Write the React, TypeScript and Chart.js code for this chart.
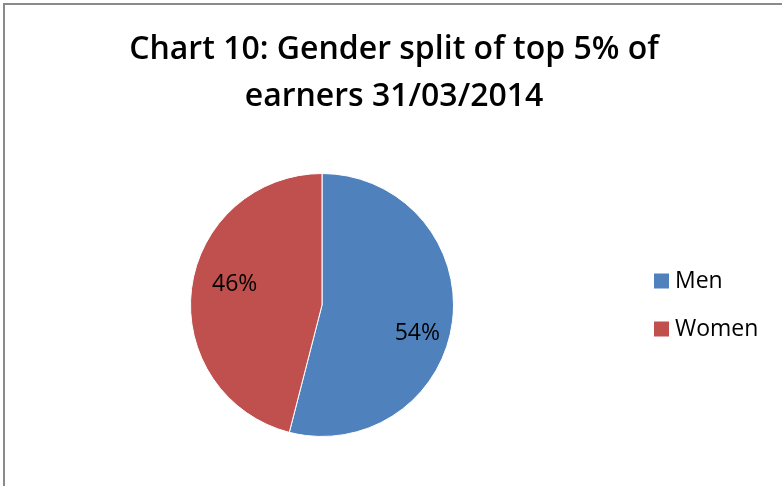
import React, { useEffect, useRef } from "react";
import { Chart, registerables } from "chart.js";

Chart.register(...registerables);

const titleLines = ["Chart 10: Gender split of top 5% of", "earners 31/03/2014"];
const categories = ["Men", "Women"];
const shares = [54, 46];
const colors = ["#4F81BD", "#C0504D"];

const FONT = "'Open Sans', 'Liberation Sans', sans-serif";

const framePlugin = {
  id: "frame",
  beforeDraw(chart: any) {
    const ctx = chart.ctx;
    ctx.save();
    ctx.fillStyle = "#ffffff";
    ctx.fillRect(0, 0, chart.width, chart.height);
    ctx.strokeStyle = "#8a8a8a";
    ctx.lineWidth = 2;
    ctx.beginPath();
    ctx.moveTo(4, chart.height + 5);
    ctx.lineTo(4, 4);
    ctx.lineTo(chart.width + 5, 4);
    ctx.stroke();
    ctx.restore();
  },
};

const titlePlugin = {
  id: "centeredTitle",
  afterDraw(chart: any) {
    const ctx = chart.ctx;
    ctx.save();
    ctx.font = `600 32px ${FONT}`;
    ctx.fillStyle = "#000000";
    ctx.textAlign = "center";
    ctx.textBaseline = "middle";
    titleLines.forEach((line, i) => {
      ctx.fillText(line, 394, 50 + i * 47);
    });
    ctx.restore();
  },
};

const sliceLabelPlugin = {
  id: "sliceLabels",
  afterDatasetsDraw(chart: any) {
    const ctx = chart.ctx;
    const meta = chart.getDatasetMeta(0);
    const data = chart.data.datasets[0].data as number[];
    const total = data.reduce((a, b) => a + b, 0);
    ctx.save();
    ctx.font = `23px ${FONT}`;
    ctx.fillStyle = "#000000";
    ctx.textAlign = "center";
    ctx.textBaseline = "middle";
    meta.data.forEach((arc: any, i: number) => {
      const p = arc.getProps(["x", "y", "startAngle", "endAngle", "outerRadius"], true);
      const mid = (p.startAngle + p.endAngle) / 2 + (8 * Math.PI) / 180;
      const r = p.outerRadius * 0.72;
      const x = p.x + Math.cos(mid) * r + 4;
      const y = p.y + Math.sin(mid) * r + 4;
      ctx.fillText(Math.round((data[i] / total) * 100) + "%", x, y);
    });
    ctx.restore();
  },
};

const legendPlugin = {
  id: "sideLegend",
  afterDraw(chart: any) {
    const ctx = chart.ctx;
    const ds = chart.data.datasets[0];
    const labels = chart.data.labels as string[];
    const cy = (chart.chartArea.top + chart.chartArea.bottom) / 2;
    const spacing = 48;
    const startY = cy - ((labels.length - 1) * spacing) / 2;
    ctx.save();
    ctx.font = `23px ${FONT}`;
    ctx.textBaseline = "middle";
    ctx.textAlign = "left";
    labels.forEach((lab, i) => {
      const y = startY + i * spacing;
      ctx.fillStyle = ds.backgroundColor[i];
      ctx.fillRect(654, y - 7.5, 15, 15);
      ctx.fillStyle = "#000000";
      ctx.fillText(lab, 675, y);
    });
    ctx.restore();
  },
};

export default function App() {
  const ref = useRef<HTMLCanvasElement | null>(null);
  useEffect(() => {
    if (!ref.current) return;
    const chart = new Chart(ref.current, {
      type: "pie",
      data: {
        labels: categories,
        datasets: [
          {
            data: shares,
            backgroundColor: colors,
            borderColor: "#ffffff",
            borderWidth: 1,
          },
        ],
      },
      options: {
        responsive: false,
        animation: false,
        layout: { padding: { top: 173, bottom: 49, left: 10, right: 148 } },
        plugins: {
          legend: { display: false },
          tooltip: { enabled: false },
          title: { display: false },
        },
      },
      plugins: [framePlugin, titlePlugin, sliceLabelPlugin, legendPlugin],
    });
    return () => chart.destroy();
  }, []);
  return (
    <div style={{ position: "fixed", left: 0, top: 0, width: 782, height: 486 }}>
      <canvas ref={ref} width={782} height={486} />
    </div>
  );
}
